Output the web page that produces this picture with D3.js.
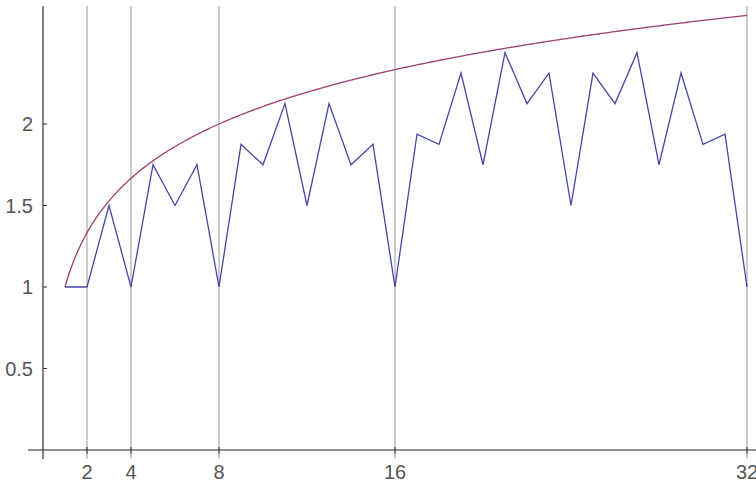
<!DOCTYPE html>
<html>
<head>
    <script src="https://d3js.org/d3.v7.min.js"></script>
    <style>
        body {margin: 0; background: white;}
        .lbl {font-family: "Liberation Sans", sans-serif; font-size: 20px; fill: #555;}
    </style>
</head>
<body>
<script>
    // sequence values for n = 1..32
    const nValues = d3.range(1, 33);
    const seqValues = [1, 1, 1.5, 1, 1.75, 1.5, 1.75, 1, 1.875, 1.75, 2.125, 1.5, 2.125, 1.75, 1.875, 1,
                       1.9375, 1.875, 2.3125, 1.75, 2.4375, 2.125, 2.3125, 1.5, 2.3125, 2.125, 2.4375, 1.75, 2.3125, 1.875, 1.9375, 1];
    const xTicks = [2, 4, 8, 16, 32];
    const yTicks = [0.5, 1, 1.5, 2];

    const width = 756, height = 483;
    const svg = d3.select("body").append("svg")
        .attr("width", width).attr("height", height);

    const x = d3.scaleLinear().domain([0, 32]).range([43, 747]);
    const y = d3.scaleLinear().domain([0, 2]).range([450, 124]);

    // vertical grid lines
    svg.selectAll(".grid").data(xTicks).enter().append("line")
        .attr("x1", d => x(d)).attr("x2", d => x(d))
        .attr("y1", 6).attr("y2", 459)
        .attr("stroke", "#bbb").attr("stroke-width", 1.5);

    // axes
    svg.append("line").attr("x1", 28).attr("x2", width).attr("y1", y(0)).attr("y2", y(0))
        .attr("stroke", "#222").attr("stroke-width", 1.2);
    svg.append("line").attr("x1", x(0)).attr("x2", x(0)).attr("y1", 6).attr("y2", 459)
        .attr("stroke", "#333").attr("stroke-width", 1.2);

    // x ticks
    svg.selectAll(".xt").data(xTicks).enter().append("line")
        .attr("x1", d => x(d)).attr("x2", d => x(d))
        .attr("y1", y(0) - 3).attr("y2", y(0) + 4)
        .attr("stroke", "#333").attr("stroke-width", 1);
    svg.selectAll(".xl").data(xTicks).enter().append("text")
        .attr("class", "lbl")
        .attr("x", d => x(d)).attr("y", 479)
        .attr("text-anchor", "middle")
        .text(d => d);

    // y ticks
    svg.selectAll(".yt").data(yTicks).enter().append("line")
        .attr("x1", x(0)).attr("x2", x(0) + 4)
        .attr("y1", d => y(d)).attr("y2", d => y(d))
        .attr("stroke", "#333").attr("stroke-width", 1);
    svg.selectAll(".yl").data(yTicks).enter().append("text")
        .attr("class", "lbl")
        .attr("x", 33).attr("y", d => y(d) + 7)
        .attr("text-anchor", "end")
        .text(d => d);

    // curve 1 + log2(n)/3
    const curve = d3.range(1, 32.01, 0.1).map(n => [n, 1 + Math.log2(n) / 3]);
    svg.append("path")
        .datum(curve)
        .attr("fill", "none")
        .attr("stroke", "#a03c6e")
        .attr("stroke-width", 1.3)
        .attr("d", d3.line().x(d => x(d[0])).y(d => y(d[1])));

    // sequence line
    svg.append("path")
        .datum(nValues.map((n, i) => [n, seqValues[i]]))
        .attr("fill", "none")
        .attr("stroke", "#4646aa")
        .attr("stroke-width", 1.3)
        .attr("d", d3.line().x(d => x(d[0])).y(d => y(d[1])));
</script>
</body>
</html>
